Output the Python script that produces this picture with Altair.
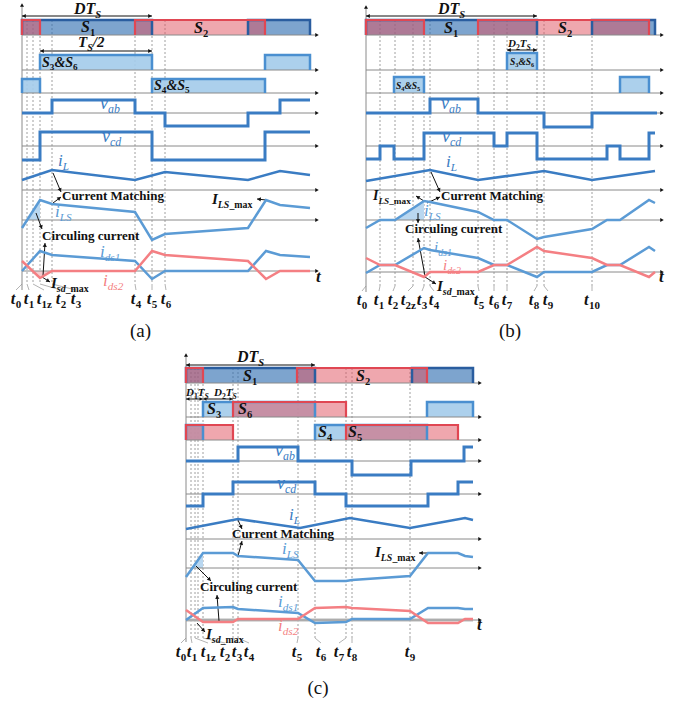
import math
import altair as alt
import pandas as pd

# ---------------- (a) switching waveforms ----------------
A_GRID_T = [0, 5, 11, 18, 30, 113, 130, 143]
A_GRID_NAME = ["0", "1", "1z", "2", "3", "4", "5", "6"]
A_S1 = [[0, 130], [226, 288]]
A_S2 = [[0, 18], [113, 243]]
A_S3S6 = [[18, 130], [243, 288]]
A_S4S5 = [[0, 18], [130, 243]]
A_VAB = [[0, 30, 0], [30, 113, 1], [113, 143, 0], [143, 226, -1], [226, 258, 0], [258, 288, 1]]
A_VCD = [[0, 18, -1], [18, 130, 1], [130, 243, -1], [243, 288, 1]]
A_IL_T = [0, 30, 113, 143, 226, 258, 288]
A_IL = [10, 20, 10, 18, 10, 19, 15]
A_I_T = [0, 18, 30, 113, 130, 143, 226, 244, 258, 288]
A_ILS = [-8, 20, 16, 8, -20, -14, -8, 20, 15, 12]
A_IDS1 = [0, 20, 16, 10, -8, 0, 0, 20, 16, 14]
A_IDS2 = [10, -7, 0, 0, 20, 16, 10, -8, 0, 0]
A_CIRC_T = [5, 18]
A_CIRC = [0, 20]
A_ISD_T = [11, 18, 30]
A_ISD = [0, -7, 0]

# ---------------- (b) switching waveforms ----------------
B_GRID_T = [0, 14, 29, 47, 58, 64, 112, 128, 141, 171, 178, 226]
B_GRID_NAME = ["0", "1", "2", "2z", "3", "4", "5", "6", "7", "8", "9", "10"]
B_S1 = [[0, 171], [226, 289]]
B_S2 = [[0, 58], [112, 283]]
B_S3S6 = [[141, 171]]
B_S4S5 = [[28, 58], [254, 283]]
B_VAB = [[0, 64, 0], [64, 112, 1], [112, 178, 0], [178, 226, -1], [226, 291, 0]]
B_VCD = [[0, 14, -1], [14, 28, 0], [28, 58, -1], [58, 128, 1], [128, 141, 0],
         [141, 171, 1], [171, 241, -1], [241, 254, 0], [254, 283, -1], [283, 289, 1]]
B_IL_T = [0, 64, 112, 178, 226, 289]
B_IL = [9, 20, 10, 19, 10, 19]
B_I_T = [0, 14, 29, 58, 64, 112, 128, 141, 171, 178, 226, 241, 254, 283, 289]
B_ILS = [-8, 0, 0, 19, 18, 8, 0, 0, -19, -17, -9, 0, 0, 20, 17]
B_IDS1 = [-1, 7, 7, 24, 22, 14, 7, 7, -5, 0, 0, 7, 7, 25, 21]
B_IDS2 = [14, 7, 7, -5, 0, 0, 7, 7, 25, 21, 14, 7, 7, -5, 0]
B_CIRC_T = [29, 58]
B_CIRC = [0, 19]

# ---------------- (c) switching waveforms ----------------
C_GRID_T = [0, 5, 9, 12, 17, 47, 52, 112, 129, 160, 166, 224]
C_GRID_NAME = ["0", "1", "1z", "", "2", "3", "4", "5", "6", "7", "8", "9"]
C_S1 = [[0, 129], [226, 287]]
C_S2 = [[0, 17], [111, 241]]
C_S3 = [[17, 129], [241, 287]]
C_S6 = [[47, 160]]
C_S4 = [[0, 17], [129, 241]]
C_S5 = [[0, 47], [160, 272]]
C_VAB = [[0, 52, 0], [52, 112, 1], [112, 166, 0], [166, 225, -1], [225, 278, 0], [278, 287, 1]]
C_VCD = [[0, 17, -1], [17, 47, 0], [47, 129, 1], [129, 160, 0], [160, 242, -1], [242, 272, 0], [272, 287, 1]]
C_IL_T = [0, 52, 114, 164, 224, 279, 287]
C_IL = [10, 20, 11, 21, 11, 21, 19]
C_I_T = [0, 17, 47, 52, 112, 129, 160, 166, 224, 242, 272, 279, 287]
C_ILS = [-9, 15, 15, 12, 8, -13, -13, -12, -8, 15, 15, 12, 11]
C_IDS1 = [0, 12, 13, 11, 7, -3, -2, 1, 1, 12, 12, 11, 11]
C_IDS2 = [10, -2, -2, 1, 1, 12, 13, 12, 9, -3, -3, 1, 1]
C_CIRC_T = [6, 17]
C_CIRC = [0, 15]

# ---------------- page layout (canvas units) ----------------
W, H = 685, 702
FONT = "Liberation Serif"
BLACK = "#111111"
S1_FILL, S1_EDGE = "#2d6cb0", "#2a5d9f"
LIGHT_FILL, LIGHT_EDGE = "#a3cbea", "#4a8fd0"
RED_FILL, RED_EDGE = "#e0505e", "#e04753"
WAVE, WAVE_LIGHT, WAVE_RED = "#3a7cc3", "#5b9bd5", "#f47f83"
GRAY, GRID = "#8a8a8a", "#a0a0a0"

LAYOUT_A = dict(ox=22, end=317, top=3, bottom=290, dash=(20, 284), label_y=304,
                rows=dict(r1=(35, 15), r2=(70, 15), r3=(93, 14), vab=(113, 13), vcd=(146, 14),
                          il=(190, 1), ils=(220, 1), ids=(271, 1)),
                tlab_x=[16, 29, 44, 61, 76, 136, 152, 166])
LAYOUT_B = dict(ox=366, end=662, top=5, bottom=292, dash=(20, 286), label_y=305,
                rows=dict(r1=(35, 15), r2=(70, 17), r3=(93, 16), vab=(113, 14), vcd=(146, 13),
                          il=(190, 1), ils=(220, 1), ids=(272, 1)),
                tlab_x=[362, 379, 393, 408, 422, 434, 479, 494, 507, 534, 548, 592])
LAYOUT_C = dict(ox=186, end=480, top=353, bottom=642, dash=(368, 638), label_y=657,
                rows=dict(r1=(383, 15), r2=(417, 15), r3=(440, 15), vab=(461, 14), vcd=(494, 12),
                          il=(539, 1), ils=(568, 1), ids=(620, 1)),
                tlab_x=[181, 192, 208, None, 225, 237, 249, 297, 321, 339, 352, 410])

fills_lo, fills_hi, edges_lo, edges_hi = [], [], [], []
waves, shades, rules, dashes, heads = [], [], [], [], []
texts = {"bi": [], "b": [], "i": [], "r": []}
uid = [0]

GLYPH = {'A': .667, 'C': .7, 'D': .722, 'I': .389, 'L': .611, 'M': .92, 'S': .556, 'T': .611,
         'a': .5, 'b': .5, 'c': .444, 'd': .5, 'e': .444, 'g': .5, 'h': .556, 'i': .278,
         'l': .278, 'm': .778, 'n': .556, 'r': .41, 's': .389, 't': .3, 'u': .556, 'v': .444,
         'x': .5, 'z': .389, '&': .778, '/': .278, '_': .5, '(': .333, ')': .333, ' ': .25}


def text_w(s, size):
    return sum(GLYPH.get(ch, .5) for ch in s) * size


def put(x, y, parts, color=BLACK, anchor="start"):
    widths = [text_w(t, s) for t, _, s, _ in parts]
    cx = x - sum(widths) / 2 if anchor == "middle" else x
    for (t, st, s, dy), w in zip(parts, widths):
        texts[st].append({"x": cx, "y": y + dy, "t": t, "s": s, "c": color})
        cx += w


def path(store, pts, color, width):
    uid[0] += 1
    for k, (x, y) in enumerate(pts):
        store.append({"id": uid[0], "k": k, "x": x, "y": y, "c": color, "w": width})


def arrow(x0, y0, x1, y1, both=False, s=18):
    rules.append({"x": x0, "y": y0, "x2": x1, "y2": y1, "c": BLACK, "w": 1})

    def head(xa, ya, xb, yb):
        dx, dy = xb - xa, yb - ya
        n = math.hypot(dx, dy) or 1
        ang = (math.degrees(math.atan2(dx, -dy)) + 360) % 360
        heads.append({"x": xb - 2 * dx / n, "y": yb - 2 * dy / n, "a": ang, "s": s})

    head(x0, y0, x1, y1)
    if both:
        head(x1, y1, x0, y0)


# label pieces
def SW(n, s=16):
    return [("S", "bi", s, 0), (n, "b", s * .66, s * .22)]


def SS(a, b, s):
    return [("S", "bi", s, 0), (a, "b", s * .66, s * .22), ("&", "bi", s, 0),
            ("S", "bi", s, 0), (b, "b", s * .66, s * .22)]


def DTS(s=16):
    return [("DT", "bi", s, 0), ("S", "bi", s * .66, s * .22)]


def DNTS(n, s=11):
    return [("D", "bi", s, 0), (n, "b", s * .7, 3), ("T", "bi", s, 0), ("S", "bi", s * .7, 3)]


def VAR(main, sub, s=17):
    return [(main, "i", s, 0), (sub, "i", s * .66, s * .24)]


def IMAX(sub, s=15):
    return [("I", "bi", s, 0), (sub, "bi", s * .66, 3.5), ("_max", "b", s * .66, 3.5)]


CM = [("Current Matching", "b", 13, 0)]
CC = [("Circuling current", "b", 13, 0)]


def draw_panel(L, grid_t, grid_name, row1, row2, row3, vab, vcd, il, ils, ids1, ids2, circ, isd=None):
    ox = L["ox"]
    R = L["rows"]

    def X(t):
        return ox + t

    # time marks and their labels
    for t, name, lx in zip(grid_t, grid_name, L["tlab_x"]):
        if t > 0:
            dashes.append({"x": X(t), "y": L["dash"][0], "y2": L["dash"][1]})
        if name:
            rules.append({"x": X(t), "y": L["dash"][1], "x2": lx, "y2": L["label_y"] - 14, "c": GRID, "w": .8})
            put(lx, L["label_y"], [("t", "bi", 16.5, 0), (name, "b", 11, 4)], anchor="middle")

    # axes
    rules.append({"x": ox, "y": L["top"] + 2, "x2": ox, "y2": L["bottom"], "c": GRAY, "w": 1})
    heads.append({"x": ox, "y": L["top"] + 2, "a": 0, "s": 16})
    for key in ["r1", "r2", "r3", "vab", "vcd", "il", "ils", "ids"]:
        y = R[key][0]
        rules.append({"x": ox, "y": y, "x2": L["end"], "y2": y, "c": GRAY, "w": 1})
        heads.append({"x": L["end"], "y": y, "a": 90, "s": 16})

    # gate signals
    style = {"blue": (S1_FILL, .62, S1_EDGE, 2.5), "light": (LIGHT_FILL, .9, LIGHT_EDGE, 2.5),
             "red": (RED_FILL, .5, RED_EDGE, 2.2)}
    for key, groups in (("r1", row1), ("r2", row2), ("r3", row3)):
        base, h = R[key]
        for kind, spans in groups:
            fc, fo, ec, ew = style[kind]
            for a, b in spans:
                (fills_hi if kind == "red" else fills_lo).append(
                    {"x": X(a), "x2": X(b), "y": base - h, "y2": base, "c": fc, "o": fo})
                path(edges_hi if kind == "red" else edges_lo,
                     [(X(a), base), (X(a), base - h), (X(b), base - h), (X(b), base)], ec, ew)

    # shaded current regions
    bl = R["ils"][0]
    uid[0] += 1
    for t, v in zip(*circ):
        shades.append({"id": uid[0], "x": X(t), "y": bl - v, "y2": bl, "c": "#b9d7f0"})
    if isd:
        bd = R["ids"][0]
        uid[0] += 1
        for t, v in zip(*isd):
            shades.append({"id": uid[0], "x": X(t), "y": bd - v, "y2": bd, "c": "#f6cdd0"})

    # bridge voltages
    for key, segs in (("vab", vab), ("vcd", vcd)):
        base, amp = R[key]
        pts = []
        for a, b, lv in segs:
            pts += [(X(a), base - lv * amp), (X(b), base - lv * amp)]
        path(waves, pts, WAVE, 3)

    # currents
    for key, (ts, vs), col in (("il", il, WAVE), ("ils", ils, WAVE_LIGHT),
                               ("ids", ids1, WAVE_LIGHT), ("ids", ids2, WAVE_RED)):
        base = R[key][0]
        path(waves, [(X(t), base - v) for t, v in zip(ts, vs)], col, 2.5)


# lighter band under the device-current axis of (c)
rules.append({"x": 186, "y": 620, "x2": 473, "y2": 620, "c": "#cfcfcf", "w": 3.5})

draw_panel(LAYOUT_A, A_GRID_T, A_GRID_NAME,
           [("blue", A_S1), ("red", A_S2)], [("light", A_S3S6)], [("light", A_S4S5)],
           A_VAB, A_VCD, (A_IL_T, A_IL), (A_I_T, A_ILS), (A_I_T, A_IDS1), (A_I_T, A_IDS2),
           (A_CIRC_T, A_CIRC), (A_ISD_T, A_ISD))
draw_panel(LAYOUT_B, B_GRID_T, B_GRID_NAME,
           [("blue", B_S1), ("red", B_S2)], [("light", B_S3S6)], [("light", B_S4S5)],
           B_VAB, B_VCD, (B_IL_T, B_IL), (B_I_T, B_ILS), (B_I_T, B_IDS1), (B_I_T, B_IDS2),
           (B_CIRC_T, B_CIRC))
draw_panel(LAYOUT_C, C_GRID_T, C_GRID_NAME,
           [("blue", C_S1), ("red", C_S2)], [("light", C_S3), ("red", C_S6)],
           [("light", C_S4), ("red", C_S5)],
           C_VAB, C_VCD, (C_IL_T, C_IL), (C_I_T, C_ILS), (C_I_T, C_IDS1), (C_I_T, C_IDS2),
           (C_CIRC_T, C_CIRC))

# ---- annotations (a) ----
put(74, 14, DTS())
put(81, 32, SW("1"))
put(194, 33, SW("2"))
put(78, 47, [("T", "bi", 15, 0), ("S", "bi", 10, 3.5), ("/2", "bi", 15, 0)])
put(42, 67, SS("3", "6", 14))
put(154, 90, SS("4", "5", 14))
put(100, 109, VAR("v", "ab", 18), WAVE)
put(102, 142, VAR("v", "cd", 18), WAVE)
put(58, 166, VAR("i", "L"), WAVE)
put(62, 200, CM)
put(55, 217, VAR("i", "LS"), WAVE_LIGHT)
put(42, 240, CC)
put(100, 257, VAR("i", "ds1"), WAVE_LIGHT)
put(103, 286, VAR("i", "ds2"), WAVE_RED)
put(51, 288, IMAX("sd"))
put(212, 204, IMAX("LS"))
put(316, 282, [("t", "bi", 17, 0)])
put(141, 337, [("(a)", "r", 19, 0)], anchor="middle")
arrow(22, 16, 152, 16, both=True)
arrow(40, 51, 152, 51, both=True)
arrow(53, 173, 61, 192)
arrow(53, 203, 61, 197)
arrow(36, 213, 42, 229)
arrow(43, 276, 45, 243)
arrow(42, 277, 50, 282)
arrow(266, 200, 257, 199)

# ---- annotations (b) ----
put(438, 14, DTS())
put(444, 33, SW("1"))
put(558, 33, SW("2"))
put(508, 47, DNTS("2"))
put(510, 65, SS("3", "6", 9.5))
put(396, 89, SS("4", "5", 9.5))
put(441, 109, VAR("v", "ab", 18), WAVE)
put(442, 142, VAR("v", "cd", 18), WAVE)
put(446, 167, VAR("i", "L"), WAVE)
put(373, 200, IMAX("LS", 14))
put(441, 200, CM)
put(424, 216, VAR("i", "LS"), WAVE_LIGHT)
put(405, 233, CC)
put(434, 252, VAR("i", "ds1", 15), WAVE_LIGHT)
put(443, 270, VAR("i", "ds2", 15), WAVE_RED)
put(437, 291, IMAX("sd"))
put(659, 282, [("t", "bi", 17, 0)])
put(510, 337, [("(b)", "r", 19, 0)], anchor="middle")
arrow(366, 16, 537, 16, both=True)
arrow(507, 50, 537, 50, both=True)
arrow(431, 172, 440, 192)
arrow(427, 203, 440, 197)
arrow(424, 201, 416, 196)
arrow(418, 213, 418, 223)
arrow(425, 276, 418, 238)
arrow(425, 277, 436, 284)

# ---- annotations (c) ----
put(237, 362, DTS())
put(243, 381, SW("1"))
put(356, 381, SW("2"))
put(186, 396, DNTS("1"))
put(214, 396, DNTS("2"))
put(207, 414, SW("3"))
put(238, 414, SW("6"))
put(318, 437, SW("4"))
put(348, 437, SW("5"))
put(275, 456, VAR("v", "ab", 18), WAVE)
put(277, 489, VAR("v", "cd", 18), WAVE)
put(289, 520, VAR("i", "L"), WAVE)
put(232, 538, CM)
put(282, 554, VAR("i", "LS"), WAVE_LIGHT)
put(200, 591, CC)
put(278, 607, VAR("i", "ds1"), WAVE_LIGHT)
put(278, 631, VAR("i", "ds2"), WAVE_RED)
put(206, 639, IMAX("sd"))
put(375, 557, IMAX("LS"))
put(477, 630, [("t", "bi", 17, 0)])
put(318, 694, [("(c)", "r", 19, 0)], anchor="middle")
arrow(186, 365, 315, 365, both=True)
arrow(186, 399, 203, 399, both=True, s=12)
arrow(203, 399, 233, 399, both=True, s=12)
arrow(238, 520, 242, 529)
arrow(238, 556, 242, 541)
arrow(428, 553, 419, 553)
arrow(196, 566, 211, 581)
arrow(219, 621, 217, 595)
arrow(197, 623, 205, 632)

# ---------------- chart ----------------
xs = alt.Scale(domain=[0, W], nice=False, zero=False)
ys = alt.Scale(domain=[0, H], nice=False, zero=False, reverse=True)


def X_(f="x"):
    return alt.X(f"{f}:Q", scale=xs, axis=None)


def Y_(f="y"):
    return alt.Y(f"{f}:Q", scale=ys, axis=None)


def rect_layer(rows):
    return alt.Chart(pd.DataFrame(rows)).mark_rect(strokeWidth=0).encode(
        x=X_(), x2="x2:Q", y=Y_(), y2="y2:Q",
        color=alt.Color("c:N", scale=None), fillOpacity=alt.FillOpacity("o:Q", scale=None))


def line_layer(rows):
    return alt.Chart(pd.DataFrame(rows)).mark_line(strokeJoin="miter", strokeCap="butt").encode(
        x=X_(), y=Y_(), detail="id:N", order="k:Q",
        color=alt.Color("c:N", scale=None), strokeWidth=alt.StrokeWidth("w:Q", scale=None))


layers = [
    alt.Chart(pd.DataFrame(dashes)).mark_rule(strokeDash=[2, 2], color=GRID, strokeWidth=1).encode(
        x=X_(), y=Y_(), y2="y2:Q"),
    rect_layer(fills_lo),
    rect_layer(fills_hi),
    alt.Chart(pd.DataFrame(shades)).mark_area().encode(
        x=X_(), y=Y_(), y2="y2:Q", detail="id:N", color=alt.Color("c:N", scale=None)),
    alt.Chart(pd.DataFrame(rules)).mark_rule().encode(
        x=X_(), y=Y_(), x2="x2:Q", y2="y2:Q",
        color=alt.Color("c:N", scale=None), strokeWidth=alt.StrokeWidth("w:Q", scale=None)),
    line_layer(edges_lo),
    line_layer(edges_hi),
    line_layer(waves),
    alt.Chart(pd.DataFrame(heads)).mark_point(shape="triangle-up", filled=True, opacity=1,
                                              color=BLACK, strokeWidth=0).encode(
        x=X_(), y=Y_(), angle=alt.Angle("a:Q", scale=None), size=alt.Size("s:Q", scale=None)),
]
for st, rows in texts.items():
    if not rows:
        continue
    layers.append(
        alt.Chart(pd.DataFrame(rows)).mark_text(
            font=FONT, align="left", baseline="alphabetic",
            fontStyle="italic" if "i" in st else "normal",
            fontWeight="bold" if "b" in st else "normal").encode(
            x=X_(), y=Y_(), text="t:N",
            size=alt.Size("s:Q", scale=None), color=alt.Color("c:N", scale=None)))

chart = alt.layer(*layers).properties(
    width=W, height=H, padding=0, autosize=alt.AutoSizeParams(type="none"),
    background="white").configure_view(stroke=None)

chart.save("out.html", embed_options={"renderer": "svg", "actions": False})
